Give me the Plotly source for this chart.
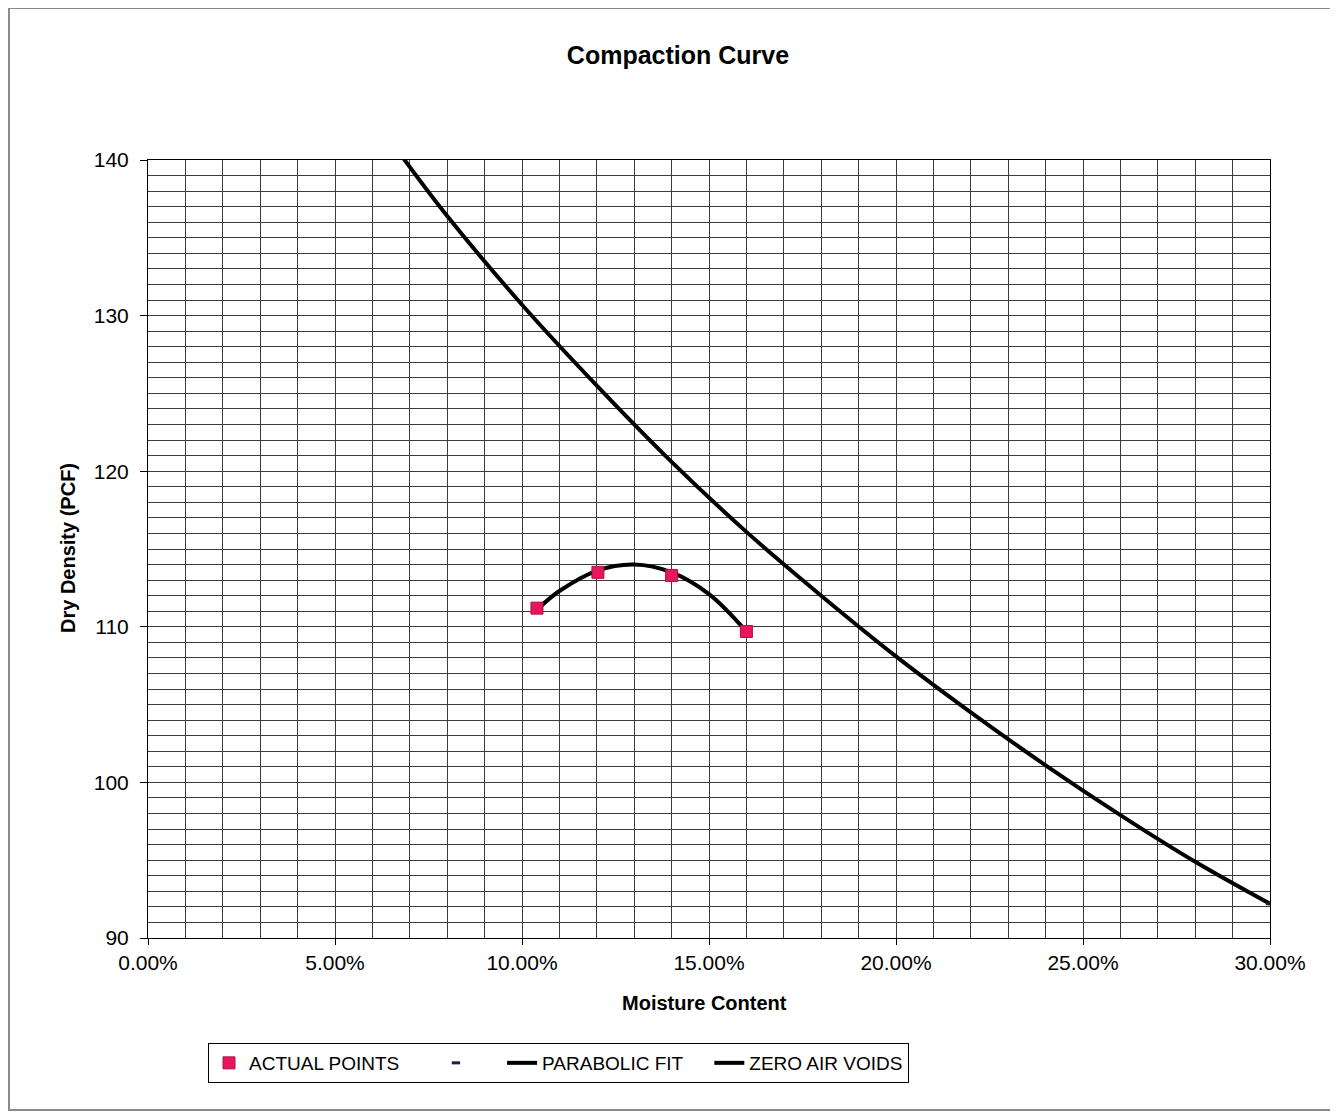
import plotly.graph_objects as go

# ---- data ----
actual_moisture = [0.104, 0.1203, 0.140, 0.160]
actual_density = [111.2, 113.5, 113.3, 109.7]

fit_moisture = [0.104, 0.11, 0.12, 0.13, 0.14, 0.15, 0.16]
fit_density = [111.1, 112.3, 113.6, 114.0, 113.5, 112.1, 109.7]

zav_moisture = [0.068, 0.08, 0.10, 0.12, 0.14, 0.16, 0.18, 0.20, 0.22, 0.24, 0.26, 0.28, 0.30]
zav_density = [140.2, 136.4, 130.7, 125.5, 120.6, 116.1, 112.0, 108.1, 104.5, 101.1, 97.9, 94.9, 92.2]

end_moisture = [0.30]
end_density = [92.2]

x_ticks = [0.0, 0.05, 0.10, 0.15, 0.20, 0.25, 0.30]
y_ticks = [90, 100, 110, 120, 130, 140]

FONT = "Liberation Sans, Arial, sans-serif"
GRID = "#3c3c3c"
OFF = 8  # page offset of the figure
NB = "\u00a0"

fig = go.Figure()
fig.add_trace(go.Scatter(
    x=fit_moisture, y=fit_density, mode="lines", name="PARABOLIC FIT" + NB * 4,
    line=dict(color="black", width=4, shape="spline"), legendrank=3,
))
fig.add_trace(go.Scatter(
    x=zav_moisture, y=zav_density, mode="lines", name="ZERO AIR VOIDS",
    line=dict(color="black", width=4, shape="spline"), legendrank=4,
))
fig.add_trace(go.Scatter(
    x=actual_moisture, y=actual_density, mode="markers", name="ACTUAL POINTS" + NB * 6,
    marker=dict(symbol="square", size=12, color="#E8175D",
                line=dict(color="#B0103F", width=1)), legendrank=1,
))
fig.add_trace(go.Scatter(
    x=end_moisture, y=end_density, mode="markers", name=NB * 4,
    marker=dict(symbol="line-ew", size=6, color="#1a1f4a",
                line=dict(color="#1a1f4a", width=3)), legendrank=2,
))

fig.update_layout(
    width=1338, height=1113,
    margin=dict(l=148 - OFF, r=68 + OFF, t=160 - OFF, b=175 + OFF),
    paper_bgcolor="white", plot_bgcolor="white",
    font=dict(family=FONT, color="black", size=20),
    showlegend=True,
    title=dict(text="<b>Compaction Curve</b>", x=(678 - OFF) / 1338, xanchor="center",
               y=1 - (55 - OFF) / 1113, yanchor="middle", yref="container",
               font=dict(size=25, family=FONT)),
    legend=dict(
        orientation="h", x=(208 - 148) / 1122, xanchor="left",
        y=(938 - 1043) / 778, yanchor="top",
        bordercolor="black", borderwidth=1, bgcolor="white",
        font=dict(size=19, family=FONT),
        traceorder="normal",
    ),
)

fig.update_xaxes(
    range=[0, 0.30], tickvals=x_ticks, tickformat=".2%",
    showgrid=True, gridcolor=GRID, gridwidth=1,
    minor=dict(dtick=0.01, tick0=0, showgrid=True, gridcolor=GRID, gridwidth=1),
    showline=True, linecolor="black", linewidth=1, mirror=True,
    ticks="outside", ticklen=6, tickcolor="black",
    tickfont=dict(size=21, family=FONT), zeroline=False,
)
fig.update_yaxes(
    range=[90, 140], tickvals=y_ticks,
    showgrid=True, gridcolor=GRID, gridwidth=1,
    minor=dict(dtick=1, tick0=90, showgrid=True, gridcolor=GRID, gridwidth=1),
    showline=True, linecolor="black", linewidth=1, mirror=True,
    ticks="outside", ticklen=7, tickcolor="black",
    tickfont=dict(size=21, family=FONT), zeroline=False,
    ticklabelstandoff=7,
)

fig.add_annotation(text="<b>Moisture Content</b>", xref="paper", yref="paper",
                   x=(704 - 148) / 1122, y=(938 - 1003) / 778,
                   xanchor="center", yanchor="middle", showarrow=False,
                   font=dict(size=20, family=FONT))
fig.add_annotation(text="<b>Dry Density (PCF)</b>", xref="paper", yref="paper",
                   x=(68 - 148) / 1122, y=(938 - 548) / 778, textangle=-90,
                   xanchor="center", yanchor="middle", showarrow=False,
                   font=dict(size=20, family=FONT))

# outer chart-area frame
fig.add_shape(type="rect", xref="paper", yref="paper",
              x0=(9 - 148) / 1122, x1=(1335 - 148) / 1122,
              y0=(938 - 1110) / 778, y1=(938 - 8) / 778,
              line=dict(color="#8a8a8a", width=2), layer="below")

fig.write_html("out.html")
